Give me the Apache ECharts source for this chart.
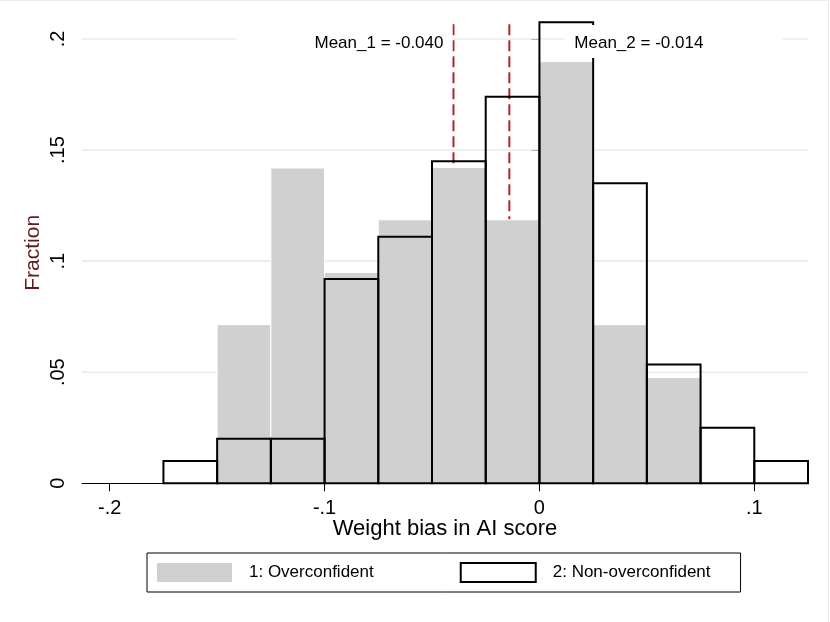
<!DOCTYPE html>
<html>
<head>
<meta charset="utf-8">
<script src="https://cdn.jsdelivr.net/npm/echarts@6/dist/echarts.min.js"></script>
<style>
html,body{margin:0;padding:0;background:#fff;}
#chart{width:830px;height:622px;}
</style>
</head>
<body>
<div id="chart"></div>
<script>
// ---- data ----
const binWidth = 0.025;
const binStart1 = -0.15;   // Overconfident
const freq1 = [0.0714, 0.1419, 0.0949, 0.1186, 0.1422, 0.1186, 0.1898, 0.0714, 0.0476];
const binStart2 = -0.175;  // Non-overconfident
const freq2 = [0.010, 0.020, 0.020, 0.092, 0.111, 0.145, 0.174, 0.2075, 0.135, 0.0535, 0.025, 0.010];
const meanValues = [-0.040, -0.014];
const meanLabels = ['Mean_1 = -0.040', 'Mean_2 = -0.014'];
const seriesNames = ['1: Overconfident', '2: Non-overconfident'];
const xTickValues = [-0.2, -0.1, 0, 0.1];
const yTickValues = [0, 0.05, 0.1, 0.15, 0.2];
const gridValues = [0.05, 0.1, 0.15, 0.2];
const xMin = -0.2129, xMax = 0.125, yMax = 0.2075;

function bins(start, freqs) {
  return freqs.map((f, i) => [start + i * binWidth, start + (i + 1) * binWidth, f]);
}
function fmt(v) {
  if (Math.abs(v) < 1e-12) return '0';
  return String(+v.toFixed(4)).replace(/^(-?)0\./, '$1.');
}
const FONT = '"Liberation Sans", Arial, sans-serif';

function barRenderer(kind) {
  return function (params, api) {
    const x0 = api.value(0), x1 = api.value(1), y = api.value(2);
    const p0 = api.coord([x0, y]);
    const p1 = api.coord([x1, 0]);
    const shape = { x: p0[0], y: p0[1], width: p1[0] - p0[0], height: p1[1] - p0[1] };
    if (kind === 1) {
      return { type: 'rect', shape: shape, style: { fill: '#d0d0d0', stroke: '#ffffff', lineWidth: 1 } };
    }
    return { type: 'rect', shape: shape, style: { fill: 'none', stroke: '#000000', lineWidth: 2 } };
  };
}

function gridRenderer(params, api) {
  const y = api.value(0);
  const a = api.coord([xMin, y]), b = api.coord([xMax, y]);
  return { type: 'line', shape: { x1: a[0], y1: a[1], x2: b[0], y2: b[1] },
    style: { stroke: '#e6ecec', lineWidth: 1.6 } };
}

function meanRenderer(params, api) {
  const x = api.value(0);
  const a = api.coord([x, 0]), b = api.coord([x, yMax]);
  return { type: 'line', shape: { x1: a[0], y1: a[1], x2: b[0], y2: b[1] },
    style: { stroke: '#b5202e', lineWidth: 2, lineDash: [11, 5] } };
}

function textRenderer(params, api) {
  const idx = params.dataIndex;
  const p = api.coord([api.value(0), api.value(1)]);
  const x = p[0], y = p[1];
  let rect, text;
  if (idx === 0) {
    rect = { x: x - 218, y: y - 14, width: 217, height: 33 };
    text = { x: x - 10, y: y + 4, align: 'right' };
  } else {
    rect = { x: x + 55, y: y - 14, width: 218, height: 33 };
    text = { x: x + 65, y: y + 4, align: 'left' };
  }
  return {
    type: 'group',
    children: [
      { type: 'rect', shape: rect, style: { fill: '#ffffff' } },
      { type: 'text', style: { text: meanLabels[idx], x: text.x, y: text.y, align: text.align,
        verticalAlign: 'middle', fill: '#000', fontSize: 17, fontFamily: FONT } }
    ]
  };
}

const chart = echarts.init(document.getElementById('chart'), null, { renderer: 'canvas' });
const option = {
  animation: false,
  backgroundColor: '#ffffff',
  textStyle: { fontFamily: FONT },
  grid: { left: 82, right: 22, top: 22.3, bottom: 138.7, outerBoundsMode: 'none', containLabel: false },
  legend: {
    left: 147, top: 553,
    orient: 'horizontal',
    padding: [9, 30, 9, 10],
    borderColor: '#000', borderWidth: 1,
    itemWidth: 75, itemHeight: 19, itemGap: 86,
    selectedMode: false,
    textStyle: { fontSize: 17, color: '#000', fontFamily: FONT, padding: [0, 0, 0, 12] },
    data: [
      { name: seriesNames[0], icon: 'rect', itemStyle: { color: '#d0d0d0', borderWidth: 0 } },
      { name: seriesNames[1], icon: 'rect', itemStyle: { color: '#ffffff', borderColor: '#000', borderWidth: 2 } }
    ]
  },
  xAxis: {
    type: 'value', min: xMin, max: xMax,
    name: 'Weight bias in AI score', nameLocation: 'middle', nameGap: 35, nameMoveOverlap: false,
    nameTextStyle: { fontSize: 22, color: '#000', fontFamily: FONT },
    axisLine: { show: true, lineStyle: { color: '#000', width: 1 } },
    axisTick: { show: true, length: 8, lineStyle: { color: '#000' }, customValues: xTickValues },
    axisLabel: { fontSize: 20, color: '#000', margin: 15, customValues: xTickValues, formatter: fmt },
    splitLine: { show: false }
  },
  yAxis: {
    type: 'value', min: 0, max: yMax,
    name: 'Fraction', nameLocation: 'middle', nameGap: 38, nameRotate: 90, nameMoveOverlap: false,
    nameTextStyle: { fontSize: 21, color: '#601c1c', fontFamily: FONT },
    axisLine: { show: true, lineStyle: { color: '#000', width: 1 } },
    axisTick: { show: true, length: 8, lineStyle: { color: '#000' }, customValues: yTickValues },
    axisLabel: { fontSize: 20, color: '#000', margin: 14, rotate: 90, customValues: yTickValues, formatter: fmt },
    splitLine: { show: false }
  },
  series: [
    {
      name: 'grid', type: 'custom', z: 1, silent: true,
      renderItem: gridRenderer, encode: { y: 0 },
      data: gridValues.map(v => [v])
    },
    {
      name: 'means', type: 'custom', z: 2, silent: true,
      renderItem: meanRenderer, encode: { x: 0 },
      data: meanValues.map(v => [v])
    },
    {
      name: seriesNames[0], type: 'custom', z: 3, silent: true,
      itemStyle: { color: '#d0d0d0' },
      renderItem: barRenderer(1), encode: { x: [0, 1], y: 2 },
      data: bins(binStart1, freq1)
    },
    {
      name: seriesNames[1], type: 'custom', z: 4, silent: true,
      itemStyle: { color: '#ffffff', borderColor: '#000' },
      renderItem: barRenderer(2), encode: { x: [0, 1], y: 2 },
      data: bins(binStart2, freq2)
    },
    {
      name: 'labels', type: 'custom', z: 5, silent: true,
      renderItem: textRenderer, encode: { x: 0, y: 1 },
      data: meanValues.map(v => [v, 0.2])
    }
  ],
  graphic: [
    { type: 'line', shape: { x1: 0, y1: 0.5, x2: 829, y2: 0.5 }, style: { stroke: '#e6ecee', lineWidth: 1 }, silent: true },
    { type: 'line', shape: { x1: 828.5, y1: 0, x2: 828.5, y2: 622 }, style: { stroke: '#e6ecee', lineWidth: 1 }, silent: true }
  ]
};
chart.setOption(option);
</script>
</body>
</html>
